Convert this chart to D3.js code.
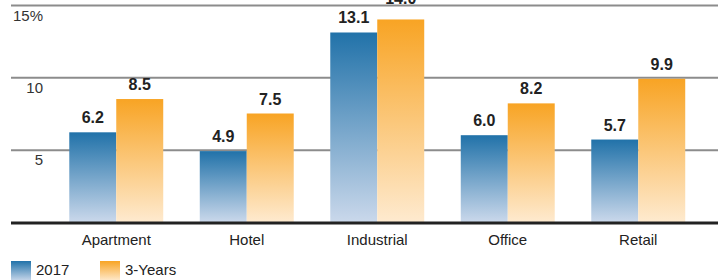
<!DOCTYPE html>
<html>
<head>
<meta charset="utf-8">
<script src="https://cdn.jsdelivr.net/npm/d3@7"></script>
<style>
  html, body { margin: 0; padding: 0; background: #fff; }
  svg { display: block; font-family: "Liberation Sans", Arial, sans-serif; }
</style>
</head>
<body>
<div id="chart"></div>
<script>
// chart data
const categories = ['Apartment', 'Hotel', 'Industrial', 'Office', 'Retail'];
const seriesNames = ['2017', '3-Years'];
const values2017 = [6.2, 4.9, 13.1, 6.0, 5.7];
const values3Years = [8.5, 7.5, 14.0, 8.2, 9.9];
const yTicks = [5, 10, 15];

const width = 718, height = 280;
const left = 11, baseY = 222, topY = 5;

const svg = d3.select('#chart').append('svg')
  .attr('width', width)
  .attr('height', height);

// gradients for the bars
const defs = svg.append('defs');
const grads = [
  { id: 'g2017', top: '#2172a9', bottom: '#cad8eb' },
  { id: 'g3y', top: '#f8a424', bottom: '#feeacf' }
];
grads.forEach(g => {
  const lg = defs.append('linearGradient')
    .attr('id', g.id)
    .attr('x1', 0).attr('y1', 0).attr('x2', 0).attr('y2', 1);
  lg.append('stop').attr('offset', '0%').attr('stop-color', g.top);
  lg.append('stop').attr('offset', '100%').attr('stop-color', g.bottom);
});
const fills = { '2017': 'url(#g2017)', '3-Years': 'url(#g3y)' };

// scales
const y = d3.scaleLinear().domain([0, 15]).range([baseY, topY]);
const x0 = d3.scaleBand().domain(categories).range([51, 703.5])
  .paddingInner(0.28).paddingOuter(0.14);
const x1 = d3.scaleBand().domain(seriesNames).range([0, x0.bandwidth()]);

// grid lines + tick labels
const yAxis = svg.append('g')
  .attr('class', 'axis axis-y')
  .attr('transform', `translate(${left},0)`)
  .call(d3.axisRight(y).tickValues(yTicks).tickSize(width - left)
    .tickFormat(d => d === 15 ? d + '%' : d));
yAxis.select('.domain').remove();
yAxis.selectAll('line').attr('stroke', '#8c8c8c').attr('stroke-width', 2);
yAxis.selectAll('text')
  .attr('x', 32)
  .attr('dy', 15)
  .attr('text-anchor', 'end')
  .style('font-size', '15px')
  .style('fill', '#333');

// bars
const rows = categories.map((c, i) => ({
  cat: c,
  vals: [
    { key: '2017', v: values2017[i] },
    { key: '3-Years', v: values3Years[i] }
  ]
}));

const groups = svg.append('g').attr('class', 'bars')
  .selectAll('g')
  .data(rows)
  .enter().append('g')
  .attr('transform', d => `translate(${x0(d.cat)},0)`);

groups.selectAll('rect')
  .data(d => d.vals)
  .enter().append('rect')
  .attr('x', d => x1(d.key))
  .attr('y', d => y(d.v))
  .attr('width', x1.bandwidth())
  .attr('height', d => baseY - y(d.v))
  .style('fill', d => fills[d.key]);

// value labels (pushed above the top grid line if they would hit it)
groups.selectAll('text')
  .data(d => d.vals)
  .enter().append('text')
  .attr('x', d => x1(d.key) + x1.bandwidth() / 2)
  .attr('y', d => {
    const yy = y(d.v) - 9;
    return yy - 12 < y(15) + 1 ? y(15) - 1 : yy;
  })
  .attr('text-anchor', 'middle')
  .style('font-size', '16px')
  .style('font-weight', 'bold')
  .style('fill', '#222')
  .text(d => d.v.toFixed(1));

// baseline
svg.append('line')
  .attr('x1', left).attr('x2', width)
  .attr('y1', y(0) + 1).attr('y2', y(0) + 1)
  .attr('stroke', '#222').attr('stroke-width', 3);

// category axis
const xAxis = svg.append('g')
  .attr('class', 'axis axis-x')
  .attr('transform', `translate(0,${baseY})`)
  .call(d3.axisBottom(x0).tickSize(0).tickPadding(12));
xAxis.select('.domain').remove();
xAxis.selectAll('text')
  .style('font-size', '15px')
  .style('fill', '#222');

// legend
const legend = svg.append('g').attr('class', 'legend');
const legendX = [11, 100];
seriesNames.forEach((s, i) => {
  const g = legend.append('g').attr('transform', `translate(${legendX[i]},261)`);
  g.append('rect').attr('width', 20).attr('height', 20).style('fill', fills[s]);
  g.append('text')
    .attr('x', 25).attr('y', 14)
    .style('font-size', '15px')
    .style('fill', '#222')
    .text(s);
});
</script>
</body>
</html>
